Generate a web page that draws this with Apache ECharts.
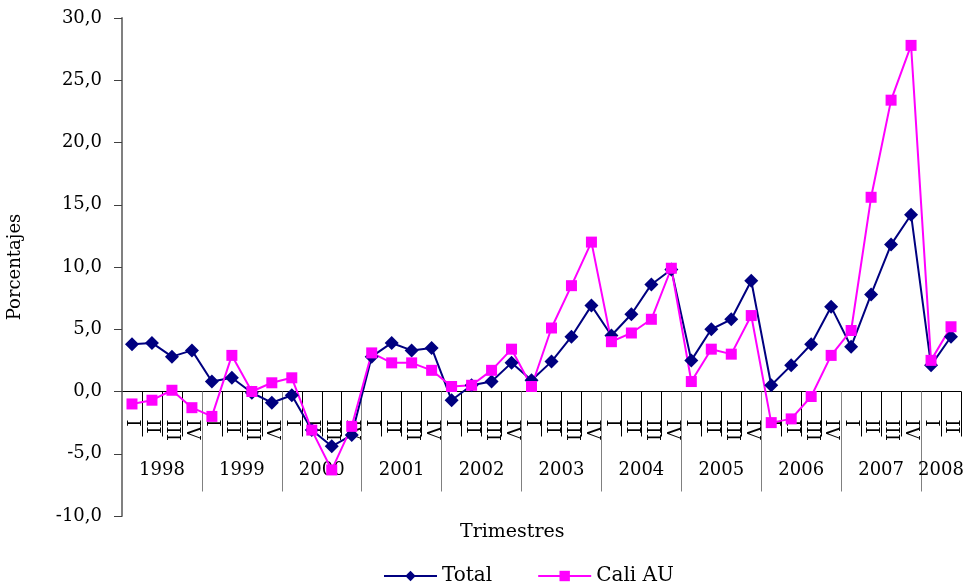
<!DOCTYPE html>
<html>
<head>
<meta charset="utf-8">
<script src="https://cdn.jsdelivr.net/npm/echarts@6/dist/echarts.min.js"></script>
<style>html,body{margin:0;padding:0;background:#fff}#c{width:968px;height:587px}</style>
</head>
<body>
<div id="c"></div>
<script>
var years = ['1998','1999','2000','2001','2002','2003','2004','2005','2006','2007','2008'];
var quartersPerYear = [4,4,4,4,4,4,4,4,4,4,2];
var quarterNames = ['I','II','III','IV'];
var totalValues = [3.8,3.9,2.8,3.3, 0.8,1.1,-0.1,-0.9, -0.3,-3.1,-4.4,-3.5, 2.8,3.9,3.3,3.5,
  -0.7,0.5,0.8,2.3, 0.9,2.4,4.4,6.9, 4.5,6.2,8.6,9.8, 2.5,5.0,5.8,8.9, 0.5,2.1,3.8,6.8,
  3.6,7.8,11.8,14.2, 2.1,4.4];
var caliValues = [-1.0,-0.7,0.1,-1.3, -2.0,2.9,0.0,0.7, 1.1,-3.1,-6.3,-2.8, 3.1,2.3,2.3,1.7,
  0.4,0.5,1.7,3.4, 0.4,5.1,8.5,12.0, 4.0,4.7,5.8,9.9, 0.8,3.4,3.0,6.1, -2.5,-2.2,-0.4,2.9,
  4.9,15.6,23.4,27.8, 2.5,5.2];
var yTicks = {min:-10, max:30, interval:5};

// build category lists
var quarterCats = [];
var yearSlots = [];
var yearBoundary = {};
var q0 = 0;
years.forEach(function(y, k){
  for (var i=0;i<quartersPerYear[k];i++) quarterCats.push(quarterNames[i]);
});
var totalQ = quarterCats.length;
for (var s=0;s<=2*totalQ;s++) yearSlots.push('');
q0 = 0;
years.forEach(function(y, k){
  var n = quartersPerYear[k];
  yearBoundary[2*q0] = true;
  yearSlots[2*q0 + n] = y;
  q0 += n;
});

var GRID_TOP = 18, GRID_BOTTOM = 71, H = 587;
var plotH = H - GRID_TOP - GRID_BOTTOM;
// distance of the zero line above the grid bottom
var zeroOffset = -plotH * (0 - yTicks.min) / (yTicks.max - yTicks.min);

var FONT = 'DejaVu Serif';
var chart = echarts.init(document.getElementById('c'), null, {renderer:'canvas'});
chart.setOption({
  animation: false,
  backgroundColor: '#fff',
  textStyle: {fontFamily: FONT},
  grid: {left: 122, right: 7, top: GRID_TOP, bottom: GRID_BOTTOM, outerBoundsMode: 'none', containLabel: false},
  title: {
    text: 'Trimestres', left: 455, top: 518,
    textStyle: {fontFamily: FONT, fontSize: 19, fontWeight: 'normal', color: '#000'}
  },
  legend: {
    left: 378, top: 561, itemWidth: 53, itemHeight: 13, itemGap: 45,
    textStyle: {fontFamily: FONT, fontSize: 20, color: '#000'},
    data: ['Total','Cali AU']
  },
  xAxis: [{
    type: 'category', data: quarterCats, boundaryGap: true, position: 'bottom', offset: zeroOffset,
    axisLine: {onZero: false, lineStyle: {color: '#000', width: 1}},
    axisTick: {show: true, interval: 0, length: 45, lineStyle: {color: '#000'}},
    axisLabel: {interval: 0, rotate: -90, margin: 28, fontSize: 18, fontFamily: FONT, color: '#000'},
    splitLine: {show: false}
  }, {
    type: 'category', data: yearSlots, boundaryGap: false, position: 'bottom', offset: zeroOffset,
    axisLine: {show: false, onZero: false},
    axisTick: {show: true, length: 100, lineStyle: {color: '#808080'},
      interval: function(i){ return !!yearBoundary[i]; }},
    axisLabel: {interval: 0, margin: 70, fontSize: 18, fontFamily: FONT, color: '#000'},
    splitLine: {show: false}
  }],
  yAxis: {
    type: 'value', min: yTicks.min, max: yTicks.max, interval: yTicks.interval,
    name: 'Porcentajes', nameLocation: 'middle', nameGap: 98,
    nameTextStyle: {fontFamily: FONT, fontSize: 18, color: '#000'},
    axisLine: {show: true, lineStyle: {color: '#808080', width: 2}},
    axisTick: {show: true, length: 8, lineStyle: {color: '#404040'}},
    axisLabel: {fontSize: 18, fontFamily: FONT, color: '#000', margin: 20,
      formatter: function(v){ return v.toFixed(1).replace('.', ','); }},
    splitLine: {show: false}
  },
  series: [{
    name: 'Total', type: 'line', xAxisIndex: 0, data: totalValues,
    symbol: 'diamond', symbolSize: 14, showAllSymbol: true,
    itemStyle: {color: '#000080'}, lineStyle: {color: '#000080', width: 2}
  }, {
    name: 'Cali AU', type: 'line', xAxisIndex: 0, data: caliValues,
    symbol: 'rect', symbolSize: 11, showAllSymbol: true,
    itemStyle: {color: '#FF00FF'}, lineStyle: {color: '#FF00FF', width: 2}
  }]
});
</script>
</body>
</html>
